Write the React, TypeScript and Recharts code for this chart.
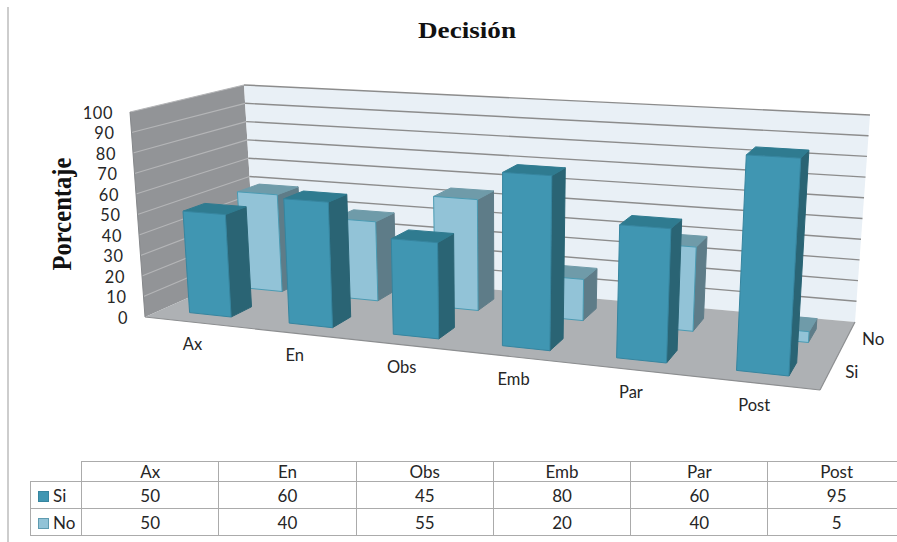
import React from 'react';
import { BarChart, Bar, XAxis, YAxis } from 'recharts';

const categories = ['Ax', 'En', 'Obs', 'Emb', 'Par', 'Post'];
const siValues = [50, 60, 45, 80, 60, 95];
const noValues = [50, 40, 55, 20, 40, 5];
const valueTicks = [0, 10, 20, 30, 40, 50, 60, 70, 80, 90, 100];

const chartData = categories.map((name, i) => ({ name, si: siValues[i], no: noValues[i] }));

const WIDTH = 897;
const HEIGHT = 542;
// the axes keep one pixel each, the flat plot fills the rest and is projected below
const PLOT_LEFT = 1;
const PLOT_W = WIDTH - 1;
const PLOT_H = HEIGHT - 1;
const UI_FONT = 'Lato, "Noto Sans", sans-serif';
const TEXT = '#262626';

// Screen corners of the 3D box: [front/back][left/right][floor/top]
const box = {
  fl0: [145, 317], fl1: [130, 112], fr0: [820, 390], fr1: [834, 155],
  bl0: [255, 268], bl1: [244, 85], br0: [855, 322], br1: [870, 115],
};

// columns get wider towards the viewer's right
const widen = (u: number) => u / (1 + 0.15 * (1 - u));

const mix = (a: number[], b: number[], t: number) => [a[0] + (b[0] - a[0]) * t, a[1] + (b[1] - a[1]) * t];

function project(uRaw: number, v: number, d: number) {
  const u = widen(uRaw);
  const front = mix(mix(box.fl0, box.fr0, u), mix(box.fl1, box.fr1, u), v);
  const back = mix(mix(box.bl0, box.br0, u), mix(box.bl1, box.br1, u), v);
  return mix(front, back, d);
}

const toU = (x: number) => (x - PLOT_LEFT) / PLOT_W;
const toV = (y: number) => 1 - y / PLOT_H;

const toPoints = (pts: number[][]) => pts.map((p) => `${p[0].toFixed(1)},${p[1].toFixed(1)}`).join(' ');

function Walls() {
  return (
    <g>
      <polygon points={toPoints([project(0, 0, 0), project(0, 1, 0), project(0, 1, 1), project(0, 0, 1)])} fill="#929497" />
      <polygon points={toPoints([project(0, 0, 1), project(0, 1, 1), project(1, 1, 1), project(1, 0, 1)])} fill="#E9F0F6" />
      <polygon points={toPoints([project(0, 0, 0), project(0, 0, 1), project(1, 0, 1), project(1, 0, 0)])} fill="#AEB1B4" />
      {valueTicks.filter((t) => t > 0).map((t) => {
        const v = t / 100;
        const a = project(0, v, 0);
        const b = project(0, v, 1);
        const c = project(1, v, 1);
        return (
          <g key={t}>
            <line x1={a[0]} y1={a[1]} x2={b[0]} y2={b[1]} stroke="#B4B5B7" strokeWidth={1.2} />
            <line x1={b[0]} y1={b[1]} x2={c[0]} y2={c[1]} stroke="#8C8C8C" strokeWidth={1.4} />
          </g>
        );
      })}
      <line x1={project(0, 0, 0)[0]} y1={project(0, 0, 0)[1]} x2={project(1, 0, 0)[0]} y2={project(1, 0, 0)[1]} stroke="#8C8E90" strokeWidth={1.2} />
      <line x1={project(1, 0, 0)[0]} y1={project(1, 0, 0)[1]} x2={project(1, 0, 1)[0]} y2={project(1, 0, 1)[1]} stroke="#8C8E90" strokeWidth={1.2} />
      <line x1={project(0, 0, 0)[0]} y1={project(0, 0, 0)[1]} x2={project(0, 1, 0)[0]} y2={project(0, 1, 0)[1]} stroke="#85878A" strokeWidth={1} />
    </g>
  );
}

// Each series sits in its own row of the depth axis
const makeColumn = (d0: number, d1: number, front: string, side: string, top: string, edge: string) => (props: any) => {
  const { x, y, width, height } = props;
  const uL = toU(x);
  const uR = toU(x + width);
  const vT = toV(y);
  const vB = toV(y + height);
  return (
    <g strokeLinejoin="round">
      <polygon points={toPoints([project(uR, vB, d0), project(uR, vT, d0), project(uR, vT, d1), project(uR, vB, d1)])} fill={side} stroke={side} strokeWidth={1} />
      <polygon points={toPoints([project(uL, vT, d0), project(uL, vT, d1), project(uR, vT, d1), project(uR, vT, d0)])} fill={top} stroke={top} strokeWidth={1} />
      <polygon points={toPoints([project(uL, vB, d0), project(uL, vT, d0), project(uR, vT, d0), project(uR, vB, d0)])} fill={front} stroke={edge} strokeWidth={1} />
    </g>
  );
};

const SiColumn = makeColumn(0.15, 0.35, '#4096B2', '#2A6474', '#2F7B90', '#36859F');
const NoColumn = makeColumn(0.65, 0.85, '#92C3D7', '#5E7C88', '#6F9BA9', '#4A9BB3');

function CategoryTick({ x, payload }: any) {
  const p = project(toU(x), 0, 0);
  return (
    <text x={p[0] - 2} y={p[1] + 22} textAnchor="middle" dominantBaseline="central" fontFamily={UI_FONT} fontSize={16.5} fill={TEXT}>
      {payload.value}
    </text>
  );
}

function ValueTick({ y, payload }: any) {
  const p = project(0, toV(y), 0);
  return (
    <text x={p[0] - 17} y={p[1]} textAnchor="end" dominantBaseline="central" fontFamily={UI_FONT} fontSize={16.4} letterSpacing={0.6} fill={TEXT}>
      {payload.value}
    </text>
  );
}

function SeriesLabels() {
  const si = project(1, 0, 0.25);
  const no = project(1, 0, 0.75);
  return (
    <g fontFamily={UI_FONT} fontSize={17} fill={TEXT} textAnchor="middle" dominantBaseline="central">
      <text x={si[0] + 23} y={si[1] - 2}>Si</text>
      <text x={no[0] + 27} y={no[1] - 1}>No</text>
    </g>
  );
}

const cellBorder = '1.5px solid #ABABAB';
const cellStyle: React.CSSProperties = { border: cellBorder, padding: 0, textAlign: 'center' };

function DataTable() {
  const rows = [
    { label: 'Si', values: siValues, color: '#4096B2', edge: '#36859F' },
    { label: 'No', values: noValues, color: '#92C3D7', edge: '#5E9BB0' },
  ];
  return (
    <table
      style={{
        position: 'absolute', left: 30, top: 461, width: 875, tableLayout: 'fixed', borderCollapse: 'collapse',
        fontFamily: UI_FONT, fontSize: 17, color: TEXT, lineHeight: 1,
      }}
    >
      <colgroup>
        <col style={{ width: 51 }} />
        {categories.map((c) => <col key={c} style={{ width: 137.3 }} />)}
      </colgroup>
      <tbody>
        <tr style={{ height: 20 }}>
          <td style={{ padding: 0 }} />
          {categories.map((c) => <td key={c} style={{ ...cellStyle, paddingBottom: 1 }}>{c}</td>)}
        </tr>
        {rows.map((r) => (
          <tr key={r.label} style={{ height: 27 }}>
            <td style={{ ...cellStyle, textAlign: 'left', whiteSpace: 'nowrap' }}>
              <span style={{ display: 'inline-block', width: 9, height: 9, margin: '0 4px 0 7px', background: r.color, border: `1px solid ${r.edge}` }} />
              {r.label}
            </td>
            {r.values.map((v, i) => <td key={categories[i]} style={cellStyle}>{v}</td>)}
          </tr>
        ))}
      </tbody>
    </table>
  );
}

export default function App() {
  return (
    <div style={{ position: 'absolute', left: 0, top: 0, width: WIDTH, height: HEIGHT, overflow: 'hidden', background: '#fff' }}>
      <BarChart width={WIDTH} height={HEIGHT} data={chartData} margin={{ top: 0, right: 0, bottom: 0, left: 0 }} barCategoryGap="29%">
        <Walls />
        <XAxis xAxisId="back" dataKey="name" hide />
        <XAxis xAxisId="front" dataKey="name" height={1} axisLine={false} tickLine={false} interval={0} tick={<CategoryTick />} />
        <YAxis domain={[0, 100]} ticks={valueTicks} width={1} axisLine={false} tickLine={false} interval={0} tick={<ValueTick />} />
        <Bar xAxisId="back" dataKey="no" isAnimationActive={false} shape={NoColumn} />
        <Bar xAxisId="front" dataKey="si" isAnimationActive={false} shape={SiColumn} />
        <SeriesLabels />
        <line x1={8} y1={7} x2={8} y2={HEIGHT} stroke="#BDBDBD" strokeWidth={1.5} />
        <text x={467} y={38} textAnchor="middle" fontFamily='"Liberation Serif", serif' fontWeight="bold" fontSize={24} textLength={98} lengthAdjust="spacingAndGlyphs" fill="#111">
          Decisión
        </text>
        <text transform="translate(71 214) rotate(-90)" textAnchor="middle" fontFamily='"Liberation Serif", serif' fontWeight="bold" fontSize={27} textLength={113} lengthAdjust="spacingAndGlyphs" fill="#111">
          Porcentaje
        </text>
      </BarChart>
      <DataTable />
    </div>
  );
}
